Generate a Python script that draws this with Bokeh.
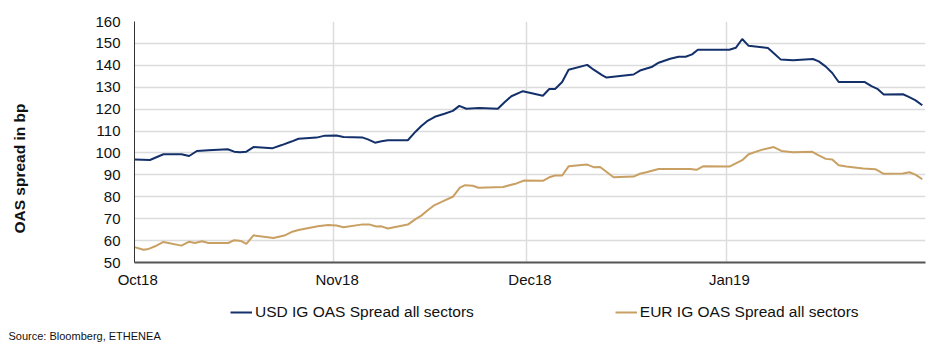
import math
import pandas as pd
from bokeh.plotting import figure
from bokeh.layouts import column, row
from bokeh.models import (FixedTicker, DatetimeTickFormatter, Legend, LegendItem,
                          Range1d, Label)
from bokeh.embed import file_html
from bokeh.resources import INLINE

# ---- data (days since 1 Oct 2018, OAS spread in bp) ----
start = pd.Timestamp("2018-10-01")

usd_day = [0.0, 2.4, 4.5, 7.3, 8.5, 9.7, 11.5, 14.5, 15.5, 16.4, 17.4, 18.5, 21.4, 22.9,
           24.4, 25.5, 28.3, 29.6, 31.4, 32.5, 35.5, 36.3, 37.4, 38.4, 39.4, 42.5, 43.7,
           44.6, 45.5, 46.7, 48.2, 49.5, 50.5, 51.6, 53.6, 56.5, 57.5, 58.6, 60.4, 63.5,
           64.5, 65.4, 66.5, 67.5, 70.4, 71.4, 72.7, 73.4, 77.6, 78.6, 80.4, 81.5, 83.3,
           84.6, 85.7, 86.7, 87.6, 92.5, 93.5, 94.5, 95.5, 98.5, 99.5, 100.5, 102.4,
           105.5, 106.4, 107.5, 108.5, 109.5, 113.5, 114.6, 115.6, 116.5, 119.5, 120.4,
           121.4, 122.5]
usd_val = [97.0, 96.8, 99.4, 99.4, 98.6, 100.9, 101.2, 101.7, 100.6, 100.3, 100.6, 102.7,
           102.1, 103.6, 105.2, 106.5, 107.0, 107.9, 108.0, 107.3, 107.0, 106.2, 104.7,
           105.3, 105.8, 105.8, 109.7, 112.3, 114.5, 116.5, 117.9, 119.2, 121.5, 120.2,
           120.5, 120.2, 123.0, 125.9, 128.2, 126.1, 129.2, 129.2, 132.4, 138.0, 140.2,
           138.0, 135.5, 134.4, 135.8, 137.6, 139.2, 141.2, 143.0, 143.9, 143.9, 145.0,
           147.1, 147.1, 148.0, 152.0, 148.9, 147.9, 145.3, 142.6, 142.3, 142.9, 141.8,
           139.4, 136.5, 132.4, 132.4, 130.5, 129.1, 126.7, 126.8, 125.6, 124.1, 121.8]

eur_day = [0.0, 1.4, 2.2, 3.2, 4.5, 7.3, 8.5, 9.4, 10.5, 11.5, 14.6, 15.5, 16.6, 17.4,
           18.5, 21.6, 23.3, 24.4, 25.5, 28.5, 30.1, 31.4, 32.5, 35.5, 36.6, 37.6, 38.4,
           39.4, 42.5, 43.7, 44.6, 45.5, 46.6, 48.0, 49.5, 50.6, 51.4, 52.6, 53.5, 57.3,
           59.4, 60.6, 63.5, 64.5, 65.4, 66.5, 67.5, 70.4, 71.4, 72.4, 74.5, 77.6, 78.6,
           79.6, 81.5, 86.4, 87.4, 88.4, 92.5, 94.5, 95.5, 97.5, 99.4, 100.6, 102.4,
           105.4, 106.4, 107.5, 108.5, 109.5, 110.7, 113.3, 115.2, 116.5, 119.5, 120.5,
           121.5, 122.5]
eur_val = [57.0, 55.8, 56.2, 57.4, 59.4, 57.7, 59.5, 58.9, 59.7, 58.9, 58.9, 60.2, 59.8,
           58.5, 62.4, 61.2, 62.3, 63.9, 64.8, 66.5, 67.1, 66.9, 66.1, 67.4, 67.3, 66.4,
           66.5, 65.5, 67.3, 69.8, 71.4, 73.6, 76.1, 78.0, 80.0, 84.2, 85.3, 85.0, 84.1,
           84.5, 86.1, 87.4, 87.3, 88.9, 89.7, 89.7, 93.9, 94.7, 93.5, 93.6, 88.9, 89.2,
           90.5, 91.2, 92.7, 92.7, 92.3, 93.9, 93.8, 96.7, 99.4, 101.4, 102.7, 100.9,
           100.3, 100.5, 98.9, 97.3, 97.0, 94.4, 93.8, 92.9, 92.6, 90.5, 90.6, 91.2,
           90.0, 88.0]

month_starts = ["2018-10-01", "2018-11-01", "2018-12-01", "2019-01-01", "2019-02-01"]
y_ticks = [50, 60, 70, 80, 90, 100, 110, 120, 130, 140, 150, 160]

series_names = ["USD IG OAS Spread all sectors", "EUR IG OAS Spread all sectors"]
colors = ["#14306b", "#c9a063"]
y_title = "OAS spread in bp"
source_text = "Source: Bloomberg, ETHENEA"


def to_ms(ts):
    return ts.value / 1e6


usd_x = [start + pd.Timedelta(days=d) for d in usd_day]
eur_x = [start + pd.Timedelta(days=d) for d in eur_day]

grid_ms = [to_ms(pd.Timestamp(m)) for m in month_starts]
label_ms = [to_ms(pd.Timestamp(m) + pd.Timedelta(hours=12)) for m in month_starts[:-1]]

FONT = "Liberation Sans"


def blank(width, height):
    b = figure(width=width, height=height, output_backend="svg", toolbar_location=None,
               min_border=0, x_range=Range1d(0, width), y_range=Range1d(0, height),
               x_axis_location=None, y_axis_location=None)
    b.grid.visible = False
    b.outline_line_color = None
    b.background_fill_color = "white"
    b.border_fill_color = "white"
    b.frame_align = False
    return b


# ---------------- y title strip ----------------
ty = blank(37, 300)
ty.add_layout(Label(x=18.5, y=132, text=y_title, angle=math.pi / 2,
                    text_align="center", text_baseline="middle",
                    text_font=FONT, text_font_style="bold", text_font_size="15.5px",
                    text_color="#111111"))

# ---------------- main chart ----------------
p = figure(width=900, height=300, x_axis_type="datetime",
           output_backend="svg", toolbar_location=None,
           min_border_left=97, min_border_right=12,
           min_border_top=21, min_border_bottom=38)
p.frame_align = False
p.x_range = Range1d(grid_ms[0], grid_ms[-1])
p.y_range = Range1d(50, 160)
p.outline_line_color = None
p.background_fill_color = "white"
p.border_fill_color = "white"

p.line(usd_x, usd_val, line_color=colors[0], line_width=2)
p.line(eur_x, eur_val, line_color=colors[1], line_width=2)

p.xaxis.ticker = FixedTicker(ticks=label_ms)
p.xaxis.formatter = DatetimeTickFormatter(months="%b%y", days="%b%y", hours="%b%y",
                                          years="%b%y")
p.yaxis.ticker = FixedTicker(ticks=y_ticks)
for ax in (p.xaxis[0], p.yaxis[0]):
    ax.major_tick_in = 0
    ax.major_tick_out = 0
    ax.minor_tick_in = 0
    ax.minor_tick_out = 0
    ax.major_label_text_font = FONT
    ax.major_label_text_font_size = "15px"
    ax.major_label_text_color = "#111111"
p.xaxis.axis_line_color = "#555555"
p.xaxis.axis_line_width = 2
p.yaxis.axis_line_color = "#333333"
p.yaxis.axis_line_width = 1
p.xaxis.major_label_standoff = 8
p.yaxis.major_label_standoff = 14

p.xgrid.ticker = FixedTicker(ticks=grid_ms)
p.xgrid.grid_line_color = "#dcdcdc"
p.xgrid.grid_line_width = 1.5
p.ygrid.ticker = FixedTicker(ticks=y_ticks)
p.ygrid.grid_line_color = "#dcdcdc"
p.ygrid.grid_line_width = 1.5

# ---------------- footer: legend + source ----------------
# legend proxies: the same series drawn in the footer, where their values (all > 54)
# fall outside the footer's visible range, so only the legend glyphs show
f = blank(937, 54)
l_usd = f.line(usd_day, usd_val, line_color=colors[0], line_width=2)
l_eur = f.line(eur_day, eur_val, line_color=colors[1], line_width=2)
legend = Legend(items=[LegendItem(label=series_names[0], renderers=[l_usd]),
                       LegendItem(label=series_names[1], renderers=[l_eur])],
                orientation="horizontal", location=(230, 32),
                padding=0, margin=0, spacing=141,
                glyph_width=22, glyph_height=20, label_height=20, label_standoff=3,
                label_text_font=FONT, label_text_font_size="15.5px",
                label_text_color="#111111",
                background_fill_alpha=0, border_line_alpha=0)
f.add_layout(legend, "center")
f.add_layout(Label(x=8, y=19, text=source_text, text_baseline="middle",
                   text_font=FONT, text_font_size="11px", text_color="#111111"))

layout = column(row(ty, p, spacing=0), f, spacing=0)
open("out.html", "w").write(file_html(layout, INLINE))
